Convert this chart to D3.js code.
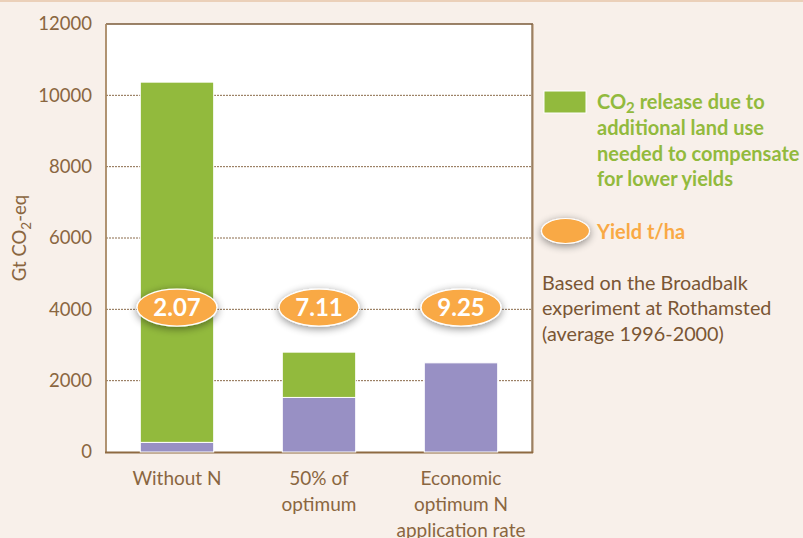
<!DOCTYPE html>
<html><head><meta charset="utf-8">
<script src="https://cdn.jsdelivr.net/npm/d3@7/dist/d3.min.js"></script>
<style>
html,body{margin:0;padding:0;background:#F8F0EA;}
svg{display:block;font-family:Lato,"Open Sans",sans-serif;}
</style></head><body>
<svg id="c" width="803" height="538"></svg>
<script>
const categories = [["Without N"],["50% of","optimum"],["Economic","optimum N","application rate"]];
const baseEmissions = [270, 1530, 2500];      // purple
const landUseCO2 = [10100, 1270, 0];          // green
const yields = ["2.07","7.11","9.25"];
const yieldLevel = 4050;
const yTicks = [0,2000,4000,6000,8000,10000,12000];

const svg = d3.select("#c");
const W=803,H=538;
const m={l:106,t:24,r:532,b:452};
const brown="#8A6640", green="#92BA3D", purple="#9890C4", orange="#F9A945";

svg.append("rect").attr("width",W).attr("height",H).attr("fill","#F8F0EA");
svg.append("rect").attr("width",W).attr("height",2).attr("fill","#EBD0B9");

const x=d3.scaleBand().domain(d3.range(categories.length)).range([m.l,m.r]).paddingInner(0.483).paddingOuter(0.2415);
const y=d3.scaleLinear().domain([0,12000]).range([m.b,m.t]);

const defs=svg.append("defs");
const f=defs.append("filter").attr("id","sh").attr("x","-50%").attr("y","-50%").attr("width","200%").attr("height","200%");
f.append("feGaussianBlur").attr("in","SourceAlpha").attr("stdDeviation",4).attr("result","b");
f.append("feOffset").attr("in","b").attr("dx",0).attr("dy",2).attr("result","o");
f.append("feComponentTransfer").attr("in","o").attr("result","o2").append("feFuncA").attr("type","linear").attr("slope",0.45);
const mg=f.append("feMerge"); mg.append("feMergeNode").attr("in","o2"); mg.append("feMergeNode").attr("in","SourceGraphic");

// plot area
svg.append("rect").attr("x",m.l).attr("y",m.t).attr("width",m.r-m.l).attr("height",m.b-m.t).attr("fill","#fff");

// grid
svg.append("g").selectAll("line").data(yTicks.filter(d=>d>0&&d<12000)).join("line")
  .attr("x1",m.l).attr("x2",m.r).attr("y1",d=>y(d)).attr("y2",d=>y(d))
  .attr("stroke","#8A6A4A").attr("stroke-width",1).attr("stroke-dasharray","2,1");

// frame
svg.append("line").attr("x1",m.l).attr("x2",m.r+1).attr("y1",m.t).attr("y2",m.t).attr("stroke","#7A5A38").attr("stroke-width",1.5);
svg.append("line").attr("x1",m.r+1).attr("x2",m.r+1).attr("y1",m.t).attr("y2",m.b+1).attr("stroke","#C4A88A").attr("stroke-width",1.5);
svg.append("line").attr("x1",m.r).attr("x2",m.r).attr("y1",m.t).attr("y2",m.b+1).attr("stroke","#7A5A38").attr("stroke-width",1.2);
svg.append("line").attr("x1",m.l).attr("x2",m.l).attr("y1",m.t).attr("y2",m.b+1).attr("stroke","#A88864").attr("stroke-width",1.8);
svg.append("line").attr("x1",m.l-1).attr("x2",m.r+1).attr("y1",m.b+0.5).attr("y2",m.b+0.5).attr("stroke","#8E6A42").attr("stroke-width",1.8);

// y axis labels
const ya=svg.append("g").attr("transform",`translate(${m.l},0)`)
  .call(d3.axisLeft(y).tickValues(yTicks).tickSize(0).tickPadding(14).tickFormat(d3.format("d")));
ya.select(".domain").remove();
ya.selectAll("text").attr("fill",brown).attr("font-size",18.5).attr("font-family","Lato,sans-serif");

// y title
svg.append("text").attr("transform",`translate(26,${(m.t+m.b)/2}) rotate(-90)`).attr("text-anchor","middle")
  .attr("fill",brown).attr("font-size",18.5)
  .html('Gt CO<tspan dy="5" font-size="13.5">2</tspan><tspan dy="-5">-eq</tspan>');

// bars
const g=svg.append("g");
g.selectAll(".p").data(baseEmissions).join("rect").attr("class","p")
  .attr("x",(d,i)=>x(i)).attr("width",x.bandwidth())
  .attr("y",d=>y(d)).attr("height",d=>y(0)-y(d))
  .attr("fill",purple).attr("stroke","#fff").attr("stroke-width",1);
g.selectAll(".g").data(landUseCO2).join("rect").attr("class","g")
  .attr("x",(d,i)=>x(i)).attr("width",x.bandwidth())
  .attr("y",(d,i)=>y(d+baseEmissions[i])).attr("height",(d,i)=>y(baseEmissions[i])-y(d+baseEmissions[i]))
  .attr("fill",green).attr("stroke",(d)=>d>0?"#fff":"none").attr("stroke-width",1);

// yield ellipses
const e=svg.append("g").selectAll("g").data(yields).join("g")
  .attr("transform",(d,i)=>`translate(${x(i)+x.bandwidth()/2},${y(yieldLevel)})`);
e.append("ellipse").attr("rx",40).attr("ry",18.5).attr("fill",orange).attr("stroke","#fff").attr("stroke-width",1.3).attr("filter","url(#sh)");
e.append("text").text(d=>d).attr("text-anchor","middle").attr("dy","0.36em")
  .attr("fill","#fff").attr("font-weight","bold").attr("font-size",24);

// x labels
svg.append("g").selectAll("text").data(categories).join("text")
  .attr("x",(d,i)=>x(i)+x.bandwidth()/2).attr("y",485).attr("text-anchor","middle")
  .attr("fill",brown).attr("font-size",19)
  .selectAll("tspan").data(d=>d).join("tspan")
  .attr("x",function(){return this.parentNode.getAttribute("x");})
  .attr("dy",(d,i)=>i===0?0:26).text(d=>d);

// legend
svg.append("rect").attr("x",544).attr("y",91).attr("width",42).attr("height",22).attr("fill",green).attr("stroke","#fff").attr("stroke-width",1);
const lt=svg.append("text").attr("fill",green).attr("font-weight","bold").attr("font-size",20);
lt.append("tspan").attr("x",597).attr("y",109).html('CO<tspan dy="4" font-size="15">2</tspan><tspan dy="-4"> release due to</tspan>');
["additional land use","needed to compensate","for lower yields"].forEach((s,i)=>
  lt.append("tspan").attr("x",597).attr("y",135+i*25.5).text(s));

svg.append("ellipse").attr("cx",565.5).attr("cy",231).attr("rx",24).attr("ry",12.5).attr("fill",orange).attr("stroke","#fff").attr("stroke-width",1.2).attr("filter","url(#sh)");
svg.append("text").attr("x",597).attr("y",239).attr("fill",orange).attr("font-weight","bold").attr("font-size",20).text("Yield t/ha");

const nt=svg.append("text").attr("fill","#7A5634").attr("font-size",19.8);
["Based on the Broadbalk","experiment at Rothamsted","(average 1996-2000)"].forEach((s,i)=>
  nt.append("tspan").attr("x",542).attr("y",290+i*25.3).text(s));
</script>
</body></html>
